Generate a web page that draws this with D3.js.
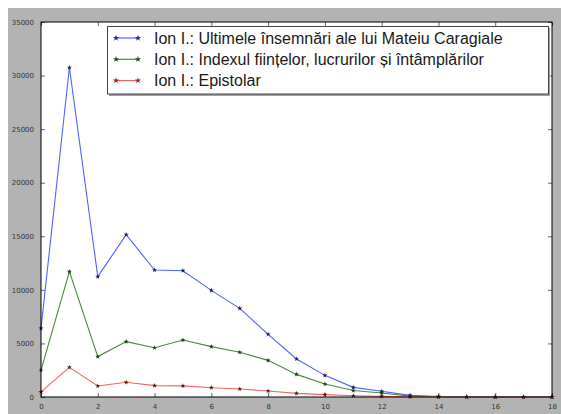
<!DOCTYPE html>
<html>
<head>
<meta charset="utf-8">
<script src="https://cdn.jsdelivr.net/npm/d3@7"></script>
<style>
  body { margin: 0; background: #fff; }
  svg { display: block; }
</style>
</head>
<body>
<svg id="canvas" width="561" height="414"></svg>
<script>
// x positions (0..18) and the three series
const xValues = d3.range(0, 19);
const seriesNames = [
  "Ion I.: Ultimele însemnări ale lui Mateiu Caragiale",
  "Ion I.: Indexul ființelor, lucrurilor și întâmplărilor",
  "Ion I.: Epistolar",
];
const blueValues = [6400, 30750, 11230, 15150, 11850, 11790, 9950, 8270, 5850, 3550, 2020, 900, 530, 150, 50, 20, 10, 5, 0];
const greenValues = [2500, 11700, 3770, 5170, 4600, 5320, 4700, 4170, 3420, 2110, 1210, 600, 380, 80, 30, 10, 5, 0, 0];
const redValues = [480, 2770, 1030, 1370, 1060, 1040, 870, 750, 560, 340, 220, 120, 60, 20, 5, 0, 0, 0, 0];
const xTicks = d3.range(0, 19, 2);
const yTicks = d3.range(0, 35001, 5000);

const lineColors = ["#4f63ff", "#4a8a3e", "#f26464"];
const markerColors = ["#1a1a60", "#1c3c1c", "#5a1818"];
const legendMarkerColors = ["#2020a8", "#1f4f1f", "#a02424"];

const svg = d3.select("#canvas");

// gray figure background
svg.append("rect")
  .attr("x", 8).attr("y", 8)
  .attr("width", 553).attr("height", 406)
  .attr("fill", "#b3b3b3");

const plotL = 41, plotR = 552, plotT = 22, plotB = 397;

const x = d3.scaleLinear().domain([0, 18]).range([plotL, plotR]);
const y = d3.scaleLinear().domain([0, 35000]).range([plotB, plotT]);

svg.append("rect")
  .attr("x", plotL).attr("y", plotT)
  .attr("width", plotR - plotL).attr("height", plotB - plotT)
  .attr("fill", "#fff");

// axes with inward ticks
const tickStyle = (g) => {
  g.select(".domain").remove();
  g.selectAll("line").attr("stroke", "#000").attr("stroke-width", 0.6);
  g.selectAll("text")
    .attr("fill", "#333")
    .style("font-family", "DejaVu Sans")
    .style("font-size", "7px");
};

svg.append("g")
  .attr("transform", `translate(0,${plotB})`)
  .call(d3.axisBottom(x).tickValues(xTicks).tickFormat(d3.format("d")).tickSizeInner(-4).tickPadding(7))
  .call(tickStyle);
svg.append("g")
  .attr("transform", `translate(0,${plotT})`)
  .call(d3.axisTop(x).tickValues(xTicks).tickFormat("").tickSizeInner(-4))
  .call(tickStyle);
svg.append("g")
  .attr("transform", `translate(${plotL},0)`)
  .call(d3.axisLeft(y).tickValues(yTicks).tickFormat(d3.format("d")).tickSizeInner(-4).tickPadding(7))
  .call(tickStyle);
svg.append("g")
  .attr("transform", `translate(${plotR},0)`)
  .call(d3.axisRight(y).tickValues(yTicks).tickFormat("").tickSizeInner(-4))
  .call(tickStyle);

// lines
const allSeries = [blueValues, greenValues, redValues];
const line = d3.line().x((d, i) => x(xValues[i])).y((d) => y(d));
const star = d3.symbol().type(d3.symbolStar).size(8);

allSeries.forEach((vals, k) => {
  svg.append("path")
    .datum(vals)
    .attr("d", line)
    .attr("fill", "none")
    .attr("stroke", lineColors[k])
    .attr("stroke-width", 1.1);
  svg.append("g")
    .selectAll("path")
    .data(vals)
    .enter()
    .append("path")
    .attr("d", star)
    .attr("transform", (d, i) => `translate(${x(xValues[i])},${y(d)})`)
    .attr("fill", markerColors[k]);
});

// frame
svg.append("rect")
  .attr("x", plotL).attr("y", plotT)
  .attr("width", plotR - plotL).attr("height", plotB - plotT)
  .attr("fill", "none")
  .attr("stroke", "#000")
  .attr("stroke-width", 1);

// legend
const legend = svg.append("g");
legend.append("rect")
  .attr("x", 109).attr("y", 28)
  .attr("width", 441).attr("height", 68)
  .attr("fill", "#a0a0a0");
legend.append("rect")
  .attr("x", 107.5).attr("y", 26.5)
  .attr("width", 441).attr("height", 67.5)
  .attr("fill", "#fff")
  .attr("stroke", "#444")
  .attr("stroke-width", 1);

seriesNames.forEach((name, k) => {
  const ly = 38 + k * 21.3;
  legend.append("line")
    .attr("x1", 116).attr("x2", 138)
    .attr("y1", ly).attr("y2", ly)
    .attr("stroke", lineColors[k])
    .attr("stroke-width", 1.2);
  [116, 138].forEach((px) => {
    legend.append("path")
      .attr("d", d3.symbol().type(d3.symbolStar).size(12))
      .attr("transform", `translate(${px},${ly})`)
      .attr("fill", legendMarkerColors[k]);
  });
  legend.append("text")
    .attr("x", 154)
    .attr("y", ly)
    .attr("dy", "0.35em")
    .style("font-family", "Liberation Sans")
    .style("font-size", "16px")
    .attr("fill", "#1a1a1a")
    .text(name);
});
</script>
</body>
</html>
